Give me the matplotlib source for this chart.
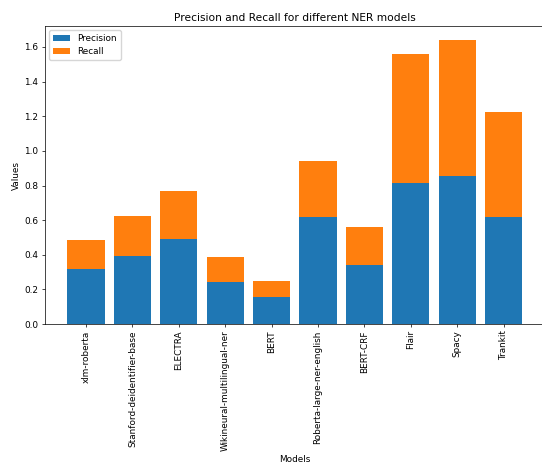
import matplotlib
matplotlib.use("Agg")
import matplotlib.pyplot as plt
import numpy as np

models = ["xlm-roberta", "Stanford-deidentifier-base", "ELECTRA", "Wikineural-multilingual-ner",
          "BERT", "Roberta-large-ner-english", "BERT-CRF", "Flair", "Spacy", "Trankit"]
precision = [0.316, 0.396, 0.489, 0.242, 0.158, 0.619, 0.344, 0.817, 0.856, 0.619]
recall = [0.170, 0.231, 0.277, 0.143, 0.092, 0.325, 0.215, 0.741, 0.783, 0.604]

s = 0.64
plt.rcParams.update({
    "axes.linewidth": 0.8 * s,
    "xtick.major.width": 0.8 * s,
    "ytick.major.width": 0.8 * s,
    "xtick.major.size": 3.5 * s,
    "ytick.major.size": 3.5 * s,
    "xtick.major.pad": 3.5 * s,
    "ytick.major.pad": 3.5 * s,
    "axes.labelpad": 4.0 * s,
    "axes.titlepad": 6.0 * s,
})

fig = plt.figure(figsize=(5.42, 4.65), dpi=100)
ax = fig.add_axes([0.0825, 0.303, 0.923, 0.641])
ax.bar(models, precision, label="Precision", color="#1f77b4")
ax.bar(models, recall, bottom=precision, label="Recall", color="#ff7f0e")
ax.set_title("Precision and Recall for different NER models", fontsize=12 * s)
ax.set_xlabel("Models", fontsize=10 * s)
ax.set_ylabel("Values", fontsize=10 * s)
ax.tick_params(axis="both", labelsize=10 * s)
plt.setp(ax.get_xticklabels(), rotation=90)
ax.legend(fontsize=10 * s, loc="upper left")
fig.savefig("out.png", dpi=100)
